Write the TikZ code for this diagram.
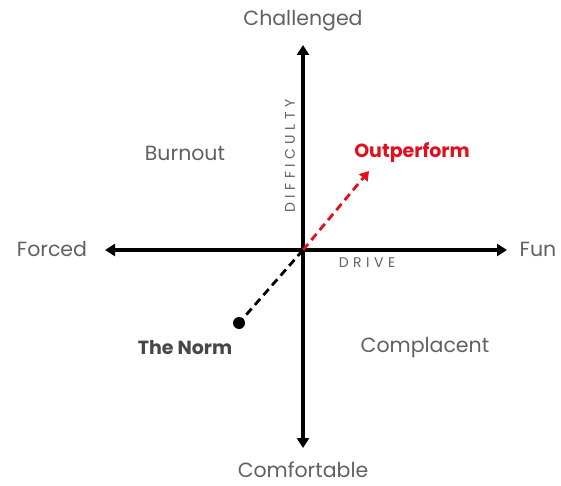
\documentclass[tikz,border=0pt]{standalone}
\usepackage{fontspec}
\setmainfont{Poppins}
\usetikzlibrary{arrows.meta}
\definecolor{lbl}{HTML}{606060}
\definecolor{redc}{HTML}{E0101E}
\begin{document}
\begin{tikzpicture}[x=1pt,y=1pt,
  axis/.style={line width=3.2pt,-{Triangle[length=10pt,width=12pt]}},
  lab/.style={text=lbl,font=\fontsize{20.5}{24}\selectfont,inner sep=0pt},
  small/.style={text=lbl,font=\fontsize{14}{16}\selectfont\addfontfeature{LetterSpace=32},inner sep=0pt},
  dashy/.style={line width=2.8pt,dash pattern=on 8pt off 5pt}]
\useasboundingbox (0,0) rectangle (561,485);
\coordinate (o) at (303,235);
\coordinate (top) at (303,440);
\coordinate (bot) at (303,37);
\coordinate (lft) at (105,235);
\coordinate (rgt) at (507,235);
\draw[axis] (o) -- (top);
\draw[axis] (o) -- (bot);
\draw[axis] (o) -- (lft);
\draw[axis] (o) -- (rgt);
\node[lab] (ch) at (303,464) {Challenged};
\node[lab] (co) at (303,15) {Comfortable};
\node[lab] (fo) at (52,236) {Forced};
\node[lab] (fu) at (538,236) {Fun};
\node[lab] (bu) at (185,332) {Burnout};
\node[lab] (cp) at (425,137) {Complacent};
\node[lab,text=redc,font=\fontsize{19}{22}\selectfont\bfseries] (op) at (412,332) {Outperform};
\node[lab,text=black!72,font=\fontsize{19}{22}\selectfont\bfseries] (tn) at (185,137) {The Norm};
\node[small,rotate=90] (di) at (290,329) {DIFFICULTY};
\node[small] (dr) at (367,222) {DRIVE};
\coordinate (nd) at (239,162);
\coordinate (ot) at (369,314);
\draw[dashy,redc,-{Triangle[length=9pt,width=11pt]}] (o) -- (ot);
\draw[dashy,black] (o) -- (nd);
\fill (nd) circle (6pt);
\end{tikzpicture}
\end{document}
